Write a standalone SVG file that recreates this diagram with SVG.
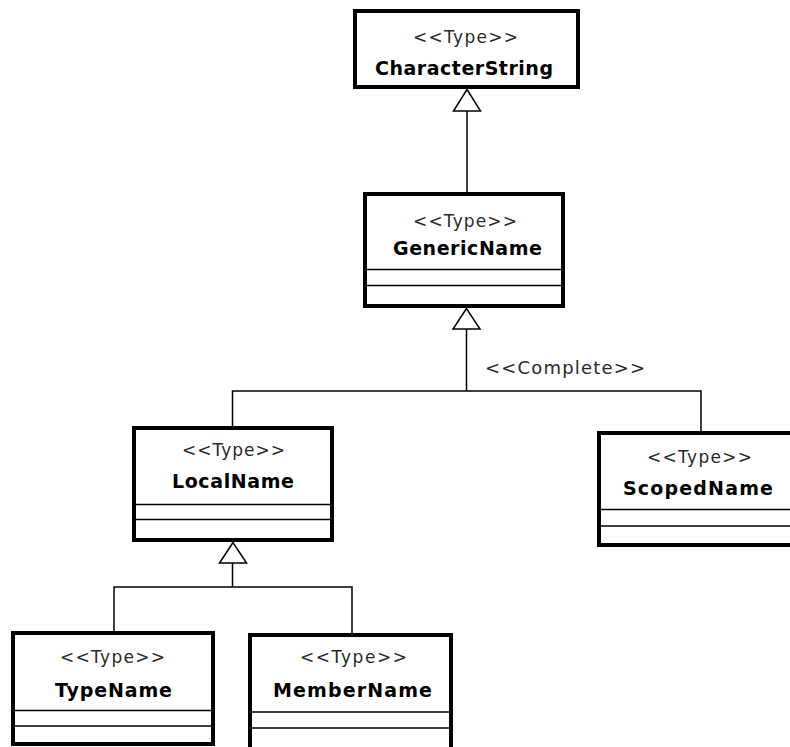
<svg xmlns="http://www.w3.org/2000/svg" width="790" height="747" viewBox="0 0 790 747">
  <style>
    .box { fill: #ffffff; stroke: #000000; stroke-width: 4; }
    .div { stroke: #000000; stroke-width: 1.5; fill: none; }
    .edge { stroke: #000000; stroke-width: 1.5; fill: none; }
    .tri { fill: #ffffff; stroke: #000000; stroke-width: 1.5; stroke-linejoin: miter; }
    .st { font-family: "DejaVu Sans", Verdana, sans-serif; font-size: 17px; fill: #2a2a2a; }
    .nm { font-family: "DejaVu Sans", Verdana, sans-serif; font-size: 19px; font-weight: bold; fill: #000000; }
    .lbl { font-family: "DejaVu Sans", Verdana, sans-serif; font-size: 18px; fill: #2a2a2a; }
  </style>
  <rect width="790" height="747" fill="#ffffff"/>

  <!-- generalization connectors -->
  <g id="connectors">
    <line class="edge" x1="467" y1="111" x2="467" y2="194"/>
    <line class="edge" x1="466.5" y1="329" x2="466.5" y2="391"/>
    <polyline class="edge" points="232.5,428 232.5,391 701,391 701,433"/>
    <line class="edge" x1="232.5" y1="563" x2="232.5" y2="587"/>
    <polyline class="edge" points="114,633 114,587 352,587 352,635"/>
    <polygon class="tri" points="467,89.5 453.5,111 480.5,111"/>
    <polygon class="tri" points="466.5,308.5 453,329 480,329"/>
    <polygon class="tri" points="233,542.5 219.5,563 246.5,563"/>
    <text class="lbl" x="485" y="374" textLength="160" lengthAdjust="spacing">&lt;&lt;Complete&gt;&gt;</text>
  </g>

  <g id="CharacterString">
    <rect class="box" x="355" y="11" width="223" height="76"/>
    <text class="st" x="413" y="43" textLength="105" lengthAdjust="spacing">&lt;&lt;Type&gt;&gt;</text>
    <text class="nm" x="375" y="75" textLength="178" lengthAdjust="spacing">CharacterString</text>
  </g>

  <g id="GenericName">
    <rect class="box" x="365" y="194" width="198" height="112"/>
    <line class="div" x1="365" y1="269.5" x2="563" y2="269.5"/>
    <line class="div" x1="365" y1="285.5" x2="563" y2="285.5"/>
    <text class="st" x="413" y="227" textLength="104" lengthAdjust="spacing">&lt;&lt;Type&gt;&gt;</text>
    <text class="nm" x="393" y="255" textLength="149" lengthAdjust="spacing">GenericName</text>
  </g>

  <g id="LocalName">
    <rect class="box" x="134" y="428" width="198" height="112"/>
    <line class="div" x1="134" y1="504.5" x2="332" y2="504.5"/>
    <line class="div" x1="134" y1="519.5" x2="332" y2="519.5"/>
    <text class="st" x="182" y="456" textLength="103" lengthAdjust="spacing">&lt;&lt;Type&gt;&gt;</text>
    <text class="nm" x="172" y="488" textLength="122" lengthAdjust="spacing">LocalName</text>
  </g>

  <g id="ScopedName">
    <rect class="box" x="599" y="433" width="204" height="112"/>
    <line class="div" x1="599" y1="509.5" x2="803" y2="509.5"/>
    <line class="div" x1="599" y1="526" x2="803" y2="526"/>
    <text class="st" x="647" y="463" textLength="105" lengthAdjust="spacing">&lt;&lt;Type&gt;&gt;</text>
    <text class="nm" x="623" y="495" textLength="150" lengthAdjust="spacing">ScopedName</text>
  </g>

  <g id="TypeName">
    <rect class="box" x="13" y="633" width="200" height="111"/>
    <line class="div" x1="13" y1="710.5" x2="213" y2="710.5"/>
    <line class="div" x1="13" y1="726" x2="213" y2="726"/>
    <text class="st" x="60" y="663" textLength="105" lengthAdjust="spacing">&lt;&lt;Type&gt;&gt;</text>
    <text class="nm" x="55" y="697" textLength="117" lengthAdjust="spacing">TypeName</text>
  </g>

  <g id="MemberName">
    <rect class="box" x="250" y="635" width="201" height="120"/>
    <line class="div" x1="250" y1="712" x2="451" y2="712"/>
    <line class="div" x1="250" y1="728" x2="451" y2="728"/>
    <text class="st" x="300" y="663" textLength="107" lengthAdjust="spacing">&lt;&lt;Type&gt;&gt;</text>
    <text class="nm" x="273" y="697" textLength="159" lengthAdjust="spacing">MemberName</text>
  </g>
</svg>
